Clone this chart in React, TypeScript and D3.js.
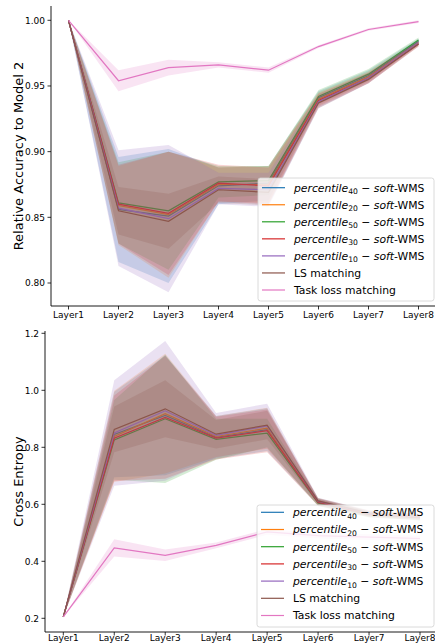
import React from 'react';
import * as d3 from 'd3';

const layers = ['Layer1', 'Layer2', 'Layer3', 'Layer4', 'Layer5', 'Layer6', 'Layer7', 'Layer8'];
const colors = ['#1f77b4', '#ff7f0e', '#2ca02c', '#d62728', '#9467bd', '#8c564b', '#e377c2'];
const percentileSubs = ['40', '20', '50', '30', '10'];
const plainLabels = ['LS matching', 'Task loss matching'];

// Top: relative accuracy (mean, std)
const accP40 = [1.0, 0.856, 0.851, 0.874, 0.876, 0.941, 0.958, 0.984];
const accP20 = [1.0, 0.859, 0.852, 0.875, 0.875, 0.940, 0.957, 0.983];
const accP50 = [1.0, 0.861, 0.855, 0.877, 0.878, 0.942, 0.959, 0.985];
const accP30 = [1.0, 0.860, 0.853, 0.876, 0.874, 0.939, 0.956, 0.982];
const accP10 = [1.0, 0.857, 0.849, 0.872, 0.871, 0.938, 0.956, 0.983];
const accLS = [1.0, 0.855, 0.847, 0.871, 0.869, 0.937, 0.955, 0.982];
const accTask = [1.0, 0.954, 0.964, 0.966, 0.962, 0.980, 0.993, 0.999];
const accP40Std = [0, 0.040, 0.051, 0.014, 0.013, 0.005, 0.004, 0.002];
const accP20Std = [0, 0.030, 0.048, 0.013, 0.014, 0.005, 0.004, 0.002];
const accP50Std = [0, 0.031, 0.045, 0.012, 0.011, 0.005, 0.004, 0.002];
const accP30Std = [0, 0.030, 0.047, 0.014, 0.014, 0.005, 0.004, 0.002];
const accP10Std = [0, 0.044, 0.056, 0.012, 0.013, 0.005, 0.004, 0.002];
const accLSStd = [0, 0.018, 0.021, 0.010, 0.010, 0.004, 0.003, 0.002];
const accTaskStd = [0, 0.008, 0.006, 0.002, 0.002, 0.001, 0.001, 0.001];

// Bottom: cross entropy (mean, std)
const ceP40 = [0.205, 0.845, 0.912, 0.835, 0.862, 0.608, 0.566, 0.555];
const ceP20 = [0.205, 0.838, 0.918, 0.838, 0.867, 0.609, 0.567, 0.556];
const ceP50 = [0.205, 0.826, 0.900, 0.828, 0.850, 0.605, 0.564, 0.553];
const ceP30 = [0.205, 0.832, 0.905, 0.832, 0.858, 0.607, 0.565, 0.554];
const ceP10 = [0.205, 0.850, 0.928, 0.842, 0.875, 0.611, 0.568, 0.557];
const ceLS = [0.205, 0.863, 0.935, 0.846, 0.878, 0.612, 0.569, 0.558];
const ceTask = [0.205, 0.447, 0.421, 0.456, 0.503, 0.490, 0.485, 0.480];
const ceP40Std = [0, 0.15, 0.21, 0.075, 0.075, 0.012, 0.010, 0.010];
const ceP20Std = [0, 0.16, 0.21, 0.072, 0.072, 0.012, 0.010, 0.010];
const ceP50Std = [0, 0.14, 0.225, 0.072, 0.05, 0.012, 0.010, 0.010];
const ceP30Std = [0, 0.15, 0.215, 0.075, 0.075, 0.012, 0.010, 0.010];
const ceP10Std = [0, 0.185, 0.245, 0.078, 0.078, 0.012, 0.010, 0.010];
const ceLSStd = [0, 0.08, 0.10, 0.05, 0.05, 0.010, 0.010, 0.010];
const ceTaskStd = [0, 0.03, 0.02, 0.01, 0.01, 0.01, 0.01, 0.01];

const accYTicks = [0.8, 0.85, 0.9, 0.95, 1.0];
const ceYTicks = [0.2, 0.4, 0.6, 0.8, 1.0, 1.2];

const FONT = 'DejaVu Sans, sans-serif';

type PanelProps = {
  means: number[][];
  stds: number[][];
  axisX: number;
  axisTop: number;
  axisBottom: number;
  axisRight: number;
  xRange: [number, number];
  yDomain: [number, number];
  yRange: [number, number];
  yTicks: number[];
  yFmt: string;
  yLabel: string;
  xLabelDy: number;
  legend: { x: number; y: number; w: number; h: number; row0: number; step: number };
  clipId: string;
};

function Panel(p: PanelProps) {
  const x = d3.scalePoint<string>().domain(layers).range(p.xRange);
  const y = d3.scaleLinear().domain(p.yDomain).range(p.yRange);
  const fmt = d3.format(p.yFmt);
  const line = d3.line<number>().x((_, i) => x(layers[i]) as number).y((d) => y(d));
  const area = (m: number[], s: number[]) =>
    d3
      .area<number>()
      .x((_, i) => x(layers[i]) as number)
      .y0((d, i) => y(d - s[i]))
      .y1((d, i) => y(d + s[i]))(m) as string;
  const labelY = (p.axisTop + p.axisBottom) / 2;
  const lg = p.legend;
  return (
    <g>
      <defs>
        <clipPath id={p.clipId}>
          <rect x={p.axisX} y={p.axisTop} width={p.axisRight - p.axisX} height={p.axisBottom - p.axisTop} />
        </clipPath>
      </defs>
      <g clipPath={`url(#${p.clipId})`}>
        {p.means.map((m, k) => (
          <g key={k}>
            <path d={line(m) as string} fill="none" stroke={colors[k]} strokeWidth={1.2} />
            <path d={area(m, p.stds[k])} fill={colors[k]} fillOpacity={0.2} stroke="none" />
          </g>
        ))}
      </g>
      <line x1={p.axisX} x2={p.axisX} y1={p.axisTop} y2={p.axisBottom} stroke="#000" strokeWidth={0.9} />
      <line x1={p.axisX} x2={p.axisRight} y1={p.axisBottom} y2={p.axisBottom} stroke="#000" strokeWidth={0.9} />
      {p.yTicks.map((t) => (
        <g key={t}>
          <line x1={p.axisX - 3.5} x2={p.axisX} y1={y(t)} y2={y(t)} stroke="#000" strokeWidth={0.8} />
          <text x={p.axisX - 6} y={y(t) + 3.3} textAnchor="end" fontSize={9} fontFamily={FONT} fill="#000">
            {fmt(t)}
          </text>
        </g>
      ))}
      {layers.map((l) => (
        <g key={l}>
          <line x1={x(l)} x2={x(l)} y1={p.axisBottom} y2={p.axisBottom + 3.5} stroke="#000" strokeWidth={0.8} />
          <text x={x(l)} y={p.axisBottom + p.xLabelDy} textAnchor="middle" fontSize={9} fontFamily={FONT} fill="#000">
            {l}
          </text>
        </g>
      ))}
      <text
        transform={`translate(23,${labelY}) rotate(-90)`}
        textAnchor="middle"
        fontSize={13}
        fontFamily={FONT}
        fill="#000"
      >
        {p.yLabel}
      </text>
      <rect x={lg.x} y={lg.y} width={lg.w} height={lg.h} rx={2.5} fill="#fff" fillOpacity={0.8} stroke="#d0d0d0" strokeWidth={0.8} />
      {colors.map((c, k) => {
        const ry = lg.row0 + k * lg.step;
        return (
          <g key={k}>
            <line x1={lg.x + 4} x2={lg.x + 27} y1={ry} y2={ry} stroke={c} strokeWidth={1.2} />
            {k < 5 ? (
              <text x={lg.x + 36} y={ry + 3.8} fontSize={10.8} fontFamily={FONT} fill="#000">
                <tspan fontStyle="italic">percentile</tspan>
                <tspan fontSize={7.6} dy={2.6}>{percentileSubs[k]}</tspan>
                <tspan dy={-2.6}>{' \u2212 '}</tspan>
                <tspan fontStyle="italic">soft</tspan>
                <tspan>-WMS</tspan>
              </text>
            ) : (
              <text x={lg.x + 36} y={ry + 3.8} fontSize={10.8} fontFamily={FONT} fill="#000">
                {plainLabels[k - 5]}
              </text>
            )}
          </g>
        );
      })}
    </g>
  );
}

export default function App() {
  const accMeans = [accP40, accP20, accP50, accP30, accP10, accLS, accTask];
  const accStds = [accP40Std, accP20Std, accP50Std, accP30Std, accP10Std, accLSStd, accTaskStd];
  const ceMeans = [ceP40, ceP20, ceP50, ceP30, ceP10, ceLS, ceTask];
  const ceStds = [ceP40Std, ceP20Std, ceP50Std, ceP30Std, ceP10Std, ceLSStd, ceTaskStd];
  return (
    <svg width={435} height={643} style={{ position: 'absolute', left: 0, top: 0, background: '#fff' }}>
      <rect width={435} height={643} fill="#fff" />
      <Panel
        means={accMeans}
        stds={accStds}
        axisX={51}
        axisTop={6}
        axisBottom={306}
        axisRight={436}
        xRange={[68.5, 418.5]}
        yDomain={[0.8, 1.0]}
        yRange={[283, 20.3]}
        yTicks={accYTicks}
        yFmt=".2f"
        yLabel="Relative Accuracy to Model 2"
        xLabelDy={12}
        legend={{ x: 258, y: 178, w: 176, h: 123, row0: 187.7, step: 17.05 }}
        clipId="clipTop"
      />
      <Panel
        means={ceMeans}
        stds={ceStds}
        axisX={45}
        axisTop={331}
        axisBottom={632}
        axisRight={438}
        xRange={[63.3, 420]}
        yDomain={[0.2, 1.2]}
        yRange={[618.3, 333.3]}
        yTicks={ceYTicks}
        yFmt=".1f"
        yLabel="Cross Entropy"
        xLabelDy={9}
        legend={{ x: 257, y: 505, w: 177, h: 122, row0: 512.3, step: 17.2 }}
        clipId="clipBottom"
      />
    </svg>
  );
}
